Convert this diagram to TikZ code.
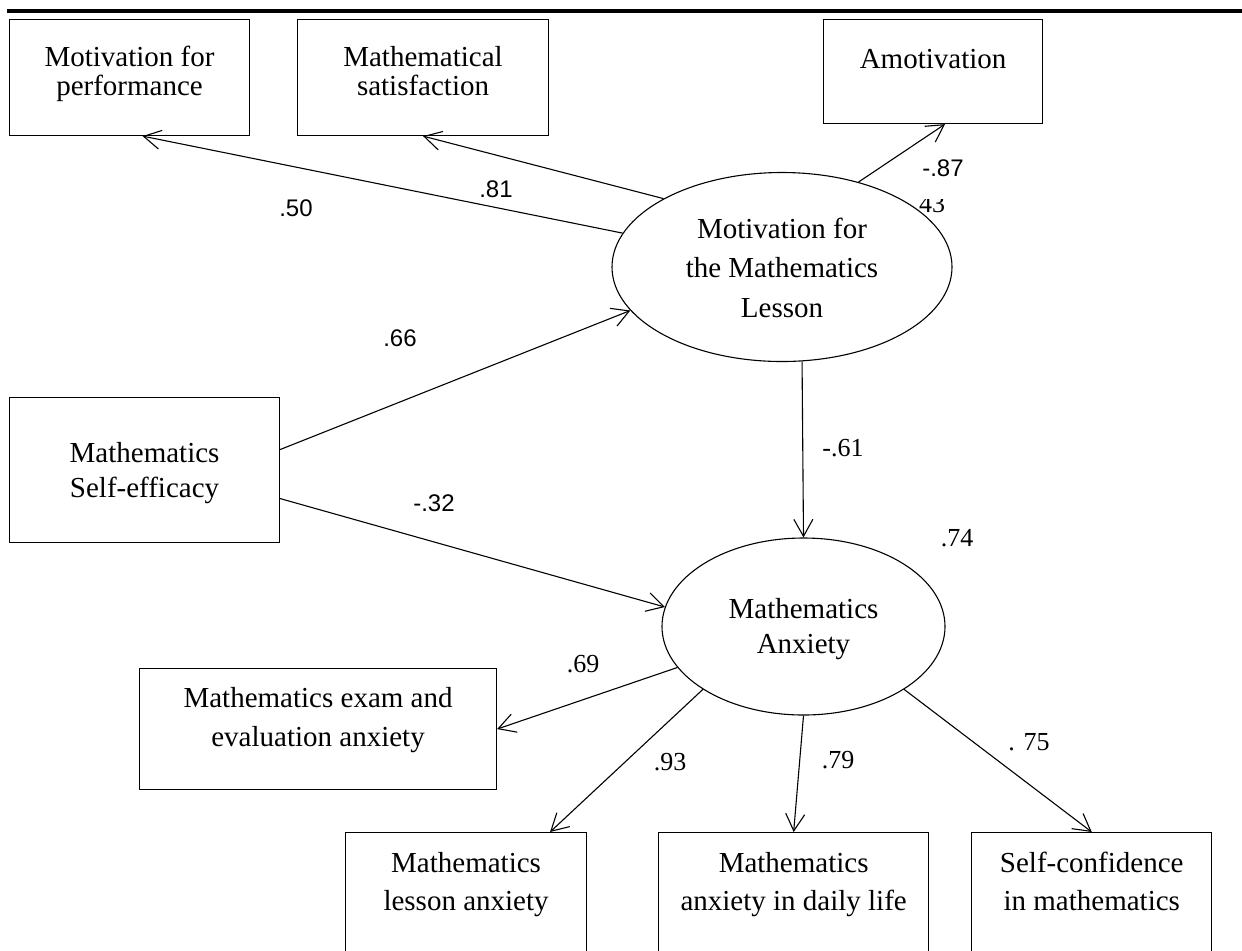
\documentclass[tikz,border=0pt]{standalone}
\usepackage{fontspec}
\setmainfont{Liberation Serif}
\setsansfont{Liberation Sans}
\usepackage{tikz}
\usetikzlibrary{arrows.meta,positioning,calc,shapes.geometric}
\tikzset{
  measurebox/.style={
    draw,
    rectangle,
    line width=0.55pt,
    align=center,
    inner sep=0pt,
    anchor=north west,
    font=\fontsize{14.5}{#1}\selectfont
  },
  latentvar/.style={
    draw,
    ellipse,
    line width=0.55pt,
    align=center,
    inner sep=0pt,
    font=\fontsize{14.5}{#1}\selectfont
  },
  patharrow/.style={-{Straight Barb[length=8.5pt,width=9.5pt]}, line width=0.55pt},
  coefserif/.style={inner sep=0pt, font=\fontsize{13}{14}\selectfont},
  coefsans/.style={inner sep=0pt, font=\sffamily\fontsize{12}{13}\selectfont}
}

\begin{document}
\begin{tikzpicture}[x=0.5pt, y=-0.5pt]
    \useasboundingbox (0,0) rectangle (1242,950);
    \clip (0,0) rectangle (1242,950);

    \draw[line width=2pt] (7,11) -- (1242,11);

    \node[measurebox=14.5pt, minimum width=120pt, text height=38pt, text depth=20pt] (perf) at (9,19) {Motivation for\\performance};
    \node[measurebox=14.5pt, minimum width=125.5pt, text height=38pt, text depth=20pt] (satis) at (297,19) {Mathematical\\satisfaction};
    \node[measurebox=14.5pt, minimum width=109.5pt, text height=24.5pt, text depth=27.5pt] (amot) at (823,19) {Amotivation};

    \node[latentvar=19.75pt, minimum width=170pt, minimum height=94.5pt, text height=50pt, text depth=0pt] (mot) at (782,267) {Motivation for\\the Mathematics\\Lesson};

    \node[measurebox=17.5pt, minimum width=135pt, text height=50pt, text depth=22.5pt] (selfeff) at (9,397) {Mathematics\\Self-efficacy};

    \node[latentvar=17.5pt, minimum width=141.5pt, minimum height=88.5pt, text height=27.5pt, text depth=1pt] (anx) at (803.5,626.5) {Mathematics\\Anxiety};

    \node[measurebox=19.5pt, minimum width=178.5pt, text height=39pt, text depth=21.5pt] (exam) at (139,668) {Mathematics exam and\\evaluation anxiety};

    \node[measurebox=19pt, minimum width=120.5pt, text height=39pt, text depth=40pt] (lesson) at (345,832) {Mathematics\\lesson anxiety};
    \node[measurebox=19pt, minimum width=135pt, text height=39pt, text depth=40pt, right=35.5pt of lesson] (daily) {Mathematics\\anxiety in daily life};
    \node[measurebox=19pt, minimum width=120pt, text height=39pt, text depth=40pt, right=21pt of daily] (selfconf) {Self-confidence\\in mathematics};

    \draw[patharrow] (mot.168.7) -- ($(perf.south)+(13,0)$);
    \draw[patharrow] (mot.150.6) -- (satis.south);
    \draw[patharrow] (mot.48.2) -- ($(amot.south)+(12,0)$);
    \draw[patharrow] ($(selfeff.east)+(0,-20.5)$) -- (mot.196.1);
    \draw[patharrow] ($(selfeff.east)+(0,28.5)$) -- (anx.172.4);
    \draw[patharrow] (mot.282.6) -- (anx.north);
    \draw[patharrow] (anx.198.9) -- (exam.east);
    \draw[patharrow] (anx.212.3) -- ($(lesson.north)+(84,0)$);
    \draw[patharrow] (anx.south) -- (daily.north);
    \draw[patharrow] (anx.328) -- (selfconf.north);

    \node[coefsans] (cperf) at (296,208) {.50};
    \node[coefsans] (csatis) at (496,189) {.81};
    \node[coefsans] (camot) at (943,168) {-.87};
    \begin{scope}
      \clip (900,199) rectangle (980,220);
      \node[coefserif] (rmot) at (932,204) {43};
    \end{scope}
    \node[coefsans] (cmot) at (400,338) {.66};
    \node[coefsans] (canx) at (434,503) {-.32};
    \node[coefserif] (cmotanx) at (843,448) {-.61};
    \node[coefserif] (ranx) at (957,538) {.74};
    \node[coefserif] (cexam) at (583,664) {.69};
    \node[coefserif] (clesson) at (670,762) {.93};
    \node[coefserif] (cdaily) at (838,760) {.79};
    \node[coefserif] (cselfconf) at (1029,742) {. 75};
  \end{tikzpicture}
\end{document}
